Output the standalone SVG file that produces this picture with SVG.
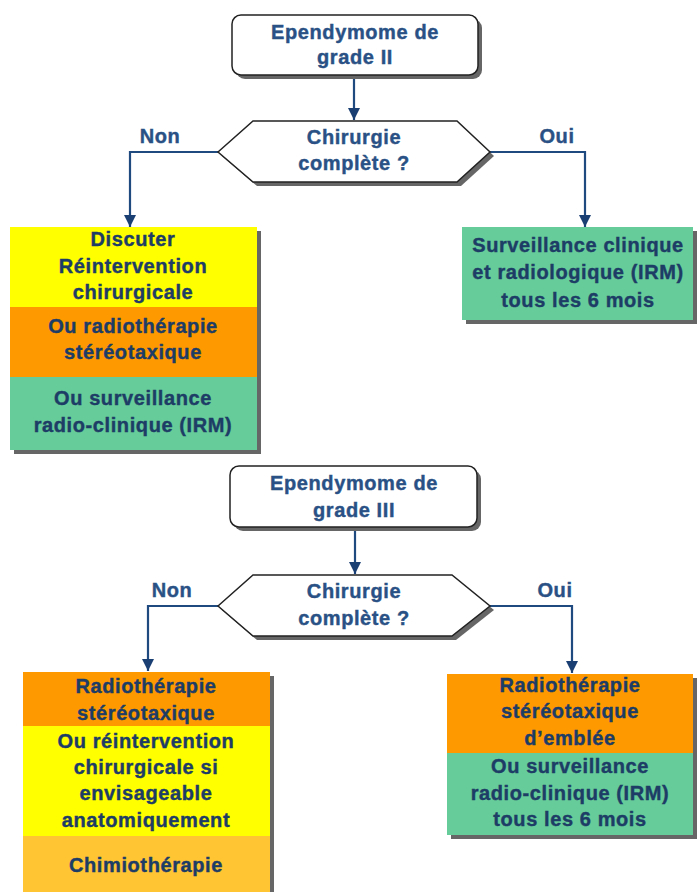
<svg xmlns="http://www.w3.org/2000/svg" width="700" height="892" viewBox="0 0 700 892">
<defs>
<style>
text{font-family:"Liberation Sans",Arial,sans-serif;font-weight:bold;font-size:20px;text-anchor:middle;letter-spacing:0.6px;stroke-width:0.4px}
.t{fill:#2a5185;stroke:#2a5185}
.d{fill:#1d3c66;stroke:#1d3c66}
.sh{fill:#666}
.box{stroke:#222;stroke-width:1.5;fill:#fff}
.y{fill:#ffff00}.o{fill:#ff9900}.g{fill:#66cc99}.lo{fill:#ffc533}
.c{fill:none;stroke:#1f4a80;stroke-width:2.2}
</style>
<marker id="ar" viewBox="0 0 10 10" refX="10" refY="5" markerWidth="5.5" markerHeight="5.5" orient="auto" markerUnits="strokeWidth"><path d="M0,0 L10,5 L0,10 z" fill="#1a3f73"/></marker>
</defs>
<rect width="700" height="892" fill="#fff"/>
<g id="connectors">
<path class="c" d="M354,76 V120" marker-end="url(#ar)"/>
<path class="c" d="M218,152 H130 V227" marker-end="url(#ar)"/>
<path class="c" d="M490,152 H585 V227" marker-end="url(#ar)"/>
<path class="c" d="M355,528 V574" marker-end="url(#ar)"/>
<path class="c" d="M218,606 H148 V671" marker-end="url(#ar)"/>
<path class="c" d="M490,606 H572 V673" marker-end="url(#ar)"/>
</g>
<g id="lbl">
<text class="t" x="160" y="143">Non</text>
<text class="t" x="557" y="143">Oui</text>
<text class="t" x="172" y="597">Non</text>
<text class="t" x="555" y="597">Oui</text>
</g>
<g id="start1">
<rect class="sh" x="236" y="19" width="246" height="60" rx="9"/>
<rect class="box" x="232" y="15" width="246" height="60" rx="9"/>
<text class="t" x="355" y="39">Ependymome de</text>
<text class="t" x="355" y="64">grade II</text>
</g>
<g id="dec1">
<polygon class="sh" points="222,156 257,125 461,125 494,156 461,186 257,186"/>
<polygon class="box" points="218,152 253,121 457,121 490,152 457,182 253,182"/>
<text class="t" x="354" y="144">Chirurgie</text>
<text class="t" x="354" y="170">complète ?</text>
</g>
<g id="non1">
<rect class="sh" x="14" y="231" width="247" height="223"/>
<rect class="y" x="10" y="227" width="247" height="80"/>
<rect class="o" x="10" y="307" width="247" height="70"/>
<rect class="g" x="10" y="377" width="247" height="73"/>
<text class="d" x="133" y="246">Discuter</text>
<text class="d" x="133" y="273">Réintervention</text>
<text class="d" x="133" y="299">chirurgicale</text>
<text class="d" x="133" y="333">Ou radiothérapie</text>
<text class="d" x="133" y="359">stéréotaxique</text>
<text class="d" x="133" y="405">Ou surveillance</text>
<text class="d" x="133" y="432">radio-clinique (IRM)</text>
</g>
<g id="oui1">
<rect class="sh" x="466" y="231" width="231" height="93"/>
<rect class="g" x="462" y="227" width="231" height="93"/>
<text class="d" x="578" y="252">Surveillance clinique</text>
<text class="d" x="578" y="279">et radiologique (IRM)</text>
<text class="d" x="578" y="307">tous les 6 mois</text>
</g>
<g id="start2">
<rect class="sh" x="234" y="470" width="247" height="61" rx="9"/>
<rect class="box" x="230" y="466" width="247" height="61" rx="9"/>
<text class="t" x="354" y="490">Ependymome de</text>
<text class="t" x="354" y="517">grade III</text>
</g>
<g id="dec2">
<polygon class="sh" points="222,610 257,579 456,579 494,610 456,640 257,640"/>
<polygon class="box" points="218,606 253,575 452,575 490,606 452,636 253,636"/>
<text class="t" x="354" y="598">Chirurgie</text>
<text class="t" x="354" y="625">complète ?</text>
</g>
<g id="non2">
<rect class="sh" x="27" y="676" width="247" height="220"/>
<rect class="o" x="23" y="672" width="247" height="54"/>
<rect class="y" x="23" y="726" width="247" height="110"/>
<rect class="lo" x="23" y="836" width="247" height="60"/>
<text class="d" x="146" y="693">Radiothérapie</text>
<text class="d" x="146" y="720">stéréotaxique</text>
<text class="d" x="146" y="748">Ou réintervention</text>
<text class="d" x="146" y="774">chirurgicale si</text>
<text class="d" x="146" y="800">envisageable</text>
<text class="d" x="146" y="827">anatomiquement</text>
<text class="d" x="146" y="872">Chimiothérapie</text>
</g>
<g id="oui2">
<rect class="sh" x="451" y="678" width="246" height="161"/>
<rect class="o" x="447" y="674" width="246" height="79"/>
<rect class="g" x="447" y="753" width="246" height="82"/>
<text class="d" x="570" y="692">Radiothérapie</text>
<text class="d" x="570" y="718">stéréotaxique</text>
<text class="d" x="570" y="745">d’emblée</text>
<text class="d" x="570" y="773">Ou surveillance</text>
<text class="d" x="570" y="800">radio-clinique (IRM)</text>
<text class="d" x="570" y="826">tous les 6 mois</text>
</g>
</svg>
